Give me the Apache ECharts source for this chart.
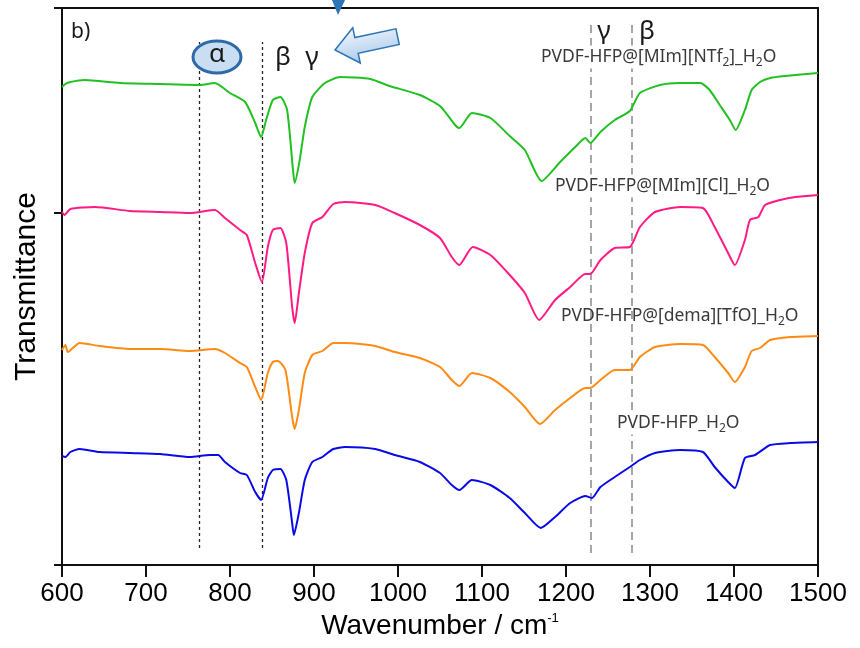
<!DOCTYPE html>
<html>
<head>
<meta charset="utf-8">
<style>
  html, body { margin: 0; padding: 0; background: #ffffff; }
  #chart { width: 860px; height: 648px; }
</style>
<script src="https://cdn.jsdelivr.net/npm/echarts@6/dist/echarts.min.js"></script>
</head>
<body>
<div id="chart"></div>
<script>
// wavenumber (cm-1) vs transmittance (arbitrary units, spectra offset)
var ntf2Data = [
  [600,478],[604,481],[610,483],[627,485],[669,482],[717,481],[764,480],[782,482],
  [800,472],[818,463],[830,442],[837,428],[843,445],[851,465],[860,468],[868,455],
  [875,395],[877,382],[883,405],[889,438],[898,468],[913,482],[931,488],[967,486],
  [990,479],[1026,470],[1050,459],[1068,440],[1073,437],[1088,452],[1110,447],[1133,429],
  [1151,415],[1171,384],[1193,403],[1211,418],[1223,427],[1229,422],[1241,433],[1258,445],
  [1276,454],[1288,472],[1312,480],[1336,482],[1360,482],[1371,475],[1383,460],[1395,445],
  [1402,435],[1413,455],[1421,475],[1431,483],[1443,487],[1461,489],[1500,492]
];
var clData = [
  [600,353],[603,350],[610,356],[639,358],[681,354],[717,353],[752,352],[782,355],
  [794,347],[812,335],[820,330],[830,302],[838,283],[845,318],[851,335],[860,337],
  [867,322],[874,258],[877,242],[882,272],[889,312],[898,342],[910,348],[923,361],
  [937,363],[973,360],[996,352],[1026,340],[1050,327],[1064,308],[1073,300],[1089,318],
  [1110,310],[1133,290],[1151,272],[1168,245],[1187,265],[1205,278],[1223,291],[1229,291],
  [1241,305],[1258,317],[1276,318],[1288,338],[1306,353],[1336,358],[1363,357],[1377,338],
  [1393,312],[1401,300],[1413,325],[1419,345],[1429,348],[1437,360],[1455,365],[1473,368],[1500,370]
];
var tfoData = [
  [600,215],[604,220],[607,213],[621,222],[645,219],[681,216],[717,216],[752,214],
  [782,216],[794,212],[812,202],[820,198],[830,178],[837,165],[845,192],[851,203],
  [857,204],[866,195],[874,148],[877,136],[882,155],[889,192],[898,210],[910,214],
  [923,222],[937,222],[973,219],[996,213],[1026,207],[1050,198],[1064,185],[1073,179],
  [1088,192],[1110,187],[1133,173],[1151,158],[1169,141],[1187,155],[1205,167],[1223,177],
  [1229,177],[1241,185],[1258,195],[1276,195],[1288,208],[1306,218],[1336,221],[1363,220],
  [1377,208],[1393,192],[1401,183],[1413,198],[1421,214],[1431,217],[1443,225],[1467,228],[1500,229]
];
var pureData = [
  [600,109],[604,108],[610,113],[621,116],[645,113],[681,112],[717,111],[752,108],
  [776,110],[786,110],[794,103],[812,92],[820,90],[830,73],[837,65],[845,87],
  [851,95],[860,96],[867,85],[874,42],[876,30],[882,52],[889,85],[898,103],
  [910,108],[923,116],[937,118],[973,116],[996,110],[1026,103],[1050,92],[1064,80],
  [1073,75],[1088,85],[1110,80],[1133,67],[1151,52],[1170,37],[1187,48],[1205,62],
  [1223,69],[1231,67],[1241,78],[1258,88],[1276,98],[1288,105],[1306,112],[1336,115],
  [1363,113],[1377,98],[1393,83],[1401,77],[1413,107],[1425,110],[1443,120],[1467,122],[1500,123]
];
var alphaBeta = [763, 838];     // dotted black markers
var gammaBeta = [1229, 1278];   // dashed grey markers

var chart = echarts.init(document.getElementById('chart'));

var labelRich = {
  m: { fontSize: 17.5, fontFamily: 'Noto Sans', fill: '#3a3a3a', lineHeight: 23 },
  s: { fontSize: 12, fontFamily: 'Noto Sans', fill: '#3a3a3a', lineHeight: 12, verticalAlign: 'bottom' }
};
function sampleLabel(txt, x, y, bg) {
  return {
    type: 'text', x: x, y: y, z: 20,
    style: {
      text: txt, rich: labelRich, align: 'left', verticalAlign: 'middle',
      backgroundColor: bg ? '#ffffff' : 'transparent'
    }
  };
}
function greek(txt, x, y) {
  return {
    type: 'text', x: x, y: y, z: 20,
    style: { text: txt, fontSize: 26, fontFamily: 'Noto Sans', fill: '#1a1a1a',
      align: 'center', verticalAlign: 'middle' }
  };
}

var markLines = [];
alphaBeta.forEach(function (w) {
  markLines.push([
    { coord: [w, 17], lineStyle: { type: [3, 3], color: '#222', width: 1.3 } },
    { coord: [w, 523] }
  ]);
});
gammaBeta.forEach(function (w) {
  markLines.push([
    { coord: [w, 12], lineStyle: { type: [8, 5], color: '#a6a6a6', width: 2 } },
    { coord: [w, 542] }
  ]);
});

function spectrum(name, data, color, withMarks) {
  var s = {
    name: name, type: 'line', data: data, showSymbol: false, smooth: 0.2,
    lineStyle: { color: color, width: 2 }, z: 5
  };
  if (withMarks) {
    s.markLine = { silent: true, symbol: ['none', 'none'], label: { show: false }, data: markLines };
  }
  return s;
}

chart.setOption({
  animation: false,
  backgroundColor: '#ffffff',
  grid: { left: 62, right: 42, top: 8, bottom: 83 },
  xAxis: [{
    type: 'value', min: 600, max: 1500, interval: 100,
    name: '{a|Wavenumber / cm}{b|-1}', nameLocation: 'middle', nameGap: 44,
    nameTextStyle: {
      rich: {
        a: { fontSize: 28, fontFamily: 'Liberation Sans', color: '#000' },
        b: { fontSize: 13, fontFamily: 'Liberation Sans', color: '#000', verticalAlign: 'top', padding: [0, 0, 12, 0] }
      }
    },
    axisLine: { onZero: false, lineStyle: { color: '#111', width: 2 } },
    axisTick: { length: 12, lineStyle: { color: '#111', width: 2 } },
    axisLabel: { fontSize: 26, fontFamily: 'Liberation Sans', color: '#000', margin: 16,
      formatter: function (v) { return String(v); } },
    splitLine: { show: false }
  }, {
    type: 'value', position: 'top', min: 600, max: 1500,
    axisLine: { show: true, onZero: false, lineStyle: { color: '#111', width: 2 } },
    axisTick: { show: false }, axisLabel: { show: false }, splitLine: { show: false }
  }],
  yAxis: [{
    type: 'value', min: 0, max: 557, interval: 352,
    name: 'Transmittance', nameLocation: 'middle', nameGap: 20,
    nameTextStyle: { fontSize: 30, fontFamily: 'Liberation Sans', color: '#000' },
    axisLine: { show: true, onZero: false, lineStyle: { color: '#111', width: 2 } },
    axisTick: { show: true, length: 8, lineStyle: { color: '#111', width: 2 } },
    axisLabel: { show: false },
    splitLine: { show: false }
  }, {
    type: 'value', position: 'right', min: 0, max: 557,
    axisLine: { show: true, onZero: false, lineStyle: { color: '#111', width: 2 } },
    axisTick: { show: false }, axisLabel: { show: false }, splitLine: { show: false }
  }],
  series: [
    spectrum('PVDF-HFP_H2O', pureData, '#0a0ae6', true),
    spectrum('PVDF-HFP@[dema][TfO]_H2O', tfoData, '#ff8a14', false),
    spectrum('PVDF-HFP@[MIm][Cl]_H2O', clData, '#ff1a85', false),
    spectrum('PVDF-HFP@[MIm][NTf2]_H2O', ntf2Data, '#22c022', false)
  ],
  graphic: [
    { type: 'text', x: 71, y: 32, z: 20,
      style: { text: 'b)', fontSize: 21, fontFamily: 'Noto Sans', fill: '#1a1a1a', verticalAlign: 'middle' } },
    { type: 'ellipse', z: 19, shape: { cx: 217, cy: 57, rx: 24, ry: 16 },
      style: { fill: '#c9def2', stroke: '#2f6aa8', lineWidth: 3 } },
    greek('α', 217, 55),
    greek('β', 283, 58),
    greek('γ', 312, 58),
    greek('γ', 604, 32),
    greek('β', 647, 32),
    { type: 'polygon', z: 20, x: 335, y: 50, rotation: 0.21,
      shape: { points: [[0, 0], [22, -18], [22, -8], [64, -8], [64, 8], [22, 8], [22, 18]] },
      style: {
        fill: new echarts.graphic.LinearGradient(0, 0, 0, 1, [
          { offset: 0, color: '#f4f8fd' }, { offset: 1, color: '#a9c9ea' }
        ]),
        stroke: '#2e75b6', lineWidth: 1.5
      } },
    { type: 'polygon', z: 20,
      shape: { points: [[332, 0], [345, 0], [338, 15]] },
      style: { fill: '#2e75b6' } },
    sampleLabel('{m|PVDF-HFP@[MIm][NTf}{s|2}{m|]_H}{s|2}{m|O}', 541, 57, true),
    sampleLabel('{m|PVDF-HFP@[MIm][Cl]_H}{s|2}{m|O}', 555, 186, true),
    sampleLabel('{m|PVDF-HFP@[dema][TfO]_H}{s|2}{m|O}', 561, 316, false),
    sampleLabel('{m|PVDF-HFP_H}{s|2}{m|O}', 617, 423, true)
  ]
});
</script>
</body>
</html>
